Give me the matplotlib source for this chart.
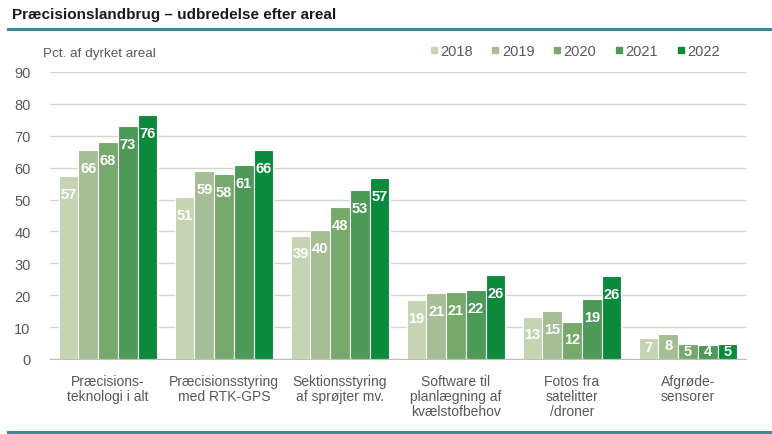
"""Præcisionslandbrug – udbredelse efter areal, grouped bar chart."""

import numpy as np
import matplotlib
matplotlib.use("Agg")
from matplotlib import pyplot as plt
from matplotlib.lines import Line2D

plt.rcParams["font.family"] = ["Liberation Sans", "DejaVu Sans"]

CATEGORIES = [
    "Præcisions-\nteknologi i alt",
    "Præcisionsstyring\nmed RTK-GPS",
    "Sektionsstyring\naf sprøjter mv.",
    "Software til\nplanlægning af\nkvælstofbehov",
    "Fotos fra\nsatelitter\n/droner",
    "Afgrøde-\nsensorer",
]
YEARS = ["2018", "2019", "2020", "2021", "2022"]
V2018 = [57.3, 50.9, 38.7, 18.6, 13.3, 6.6]
V2019 = [65.6, 59.0, 40.4, 20.8, 15.0, 7.8]
V2020 = [68.1, 57.9, 47.6, 20.9, 11.6, 4.6]
V2021 = [73.0, 60.8, 52.9, 21.6, 18.8, 4.4]
V2022 = [76.4, 65.6, 56.7, 26.4, 25.9, 4.6]
SERIES = [V2018, V2019, V2020, V2021, V2022]
COLORS = ["#c5d4b3", "#a5be95", "#78a96c", "#4d9a58", "#0b8a3c"]
TEAL = "#3a8a9a"
GRID = "#d6d6cc"
TEXT_GRAY = "#595959"

fig = plt.figure(figsize=(7.72, 4.35), dpi=100)
ax = fig.add_axes([50 / 772, 1 - 360 / 435, 696 / 772, 287 / 435])

x = np.arange(len(CATEGORIES))
width = 0.17
for i, (vals, color) in enumerate(zip(SERIES, COLORS)):
    pos = x + (i - 2) * width
    ax.bar(pos, vals, width=width, color=color, edgecolor="white", linewidth=0.8, zorder=3)
    for px, v in zip(pos, vals):
        ly = max(v - 5.6, v * 0.55)
        ax.text(px, ly, f"{v:.0f}", ha="center", va="center", color="white",
                fontsize=10.5, fontweight="bold", zorder=4)

ax.set_xlim(-0.5, len(CATEGORIES) - 0.5)
ax.set_ylim(0, 90)
ax.set_yticks(range(0, 91, 10))
ax.grid(True, axis="y", color=GRID, linewidth=1.0, zorder=0)
ax.set_axisbelow(True)
for side in ["top", "right", "left"]:
    ax.spines[side].set_visible(False)
ax.spines["bottom"].set_color("#bfbfb5")
ax.tick_params(axis="y", length=0, pad=14, labelsize=10.5, labelcolor=TEXT_GRAY)
ax.tick_params(axis="x", length=0, pad=11, labelsize=10, labelcolor=TEXT_GRAY)
ax.set_xticks(x)
ax.set_xticklabels(CATEGORIES, linespacing=1.1)

fig.text(43 / 772, 1 - 54 / 435, "Pct. af dyrket areal", fontsize=9.7,
         color=TEXT_GRAY, va="center", ha="left")

handles = [Line2D([], [], marker="s", linestyle="none", markersize=5,
                  markerfacecolor=c, markeredgecolor=c) for c in COLORS]
fig.legend(handles, YEARS, loc="center right", bbox_to_anchor=(720 / 772, 1 - 52 / 435),
           ncol=5, frameon=False, fontsize=10.5, labelcolor=TEXT_GRAY,
           handletextpad=0.05, columnspacing=1.15, handlelength=0.8,
           borderpad=0, borderaxespad=0)

fig.text(12 / 772, 1 - 15 / 435, "Præcisionslandbrug – udbredelse efter areal",
         fontsize=11, fontweight="bold", color="#1a1a1a", va="center", ha="left")
fig.add_artist(Line2D([8 / 772, 1], [1 - 30 / 435] * 2, color=TEAL, linewidth=2.2))
fig.add_artist(Line2D([8 / 772, 1], [1 - 433 / 435] * 2, color=TEAL, linewidth=2.2))

fig.savefig("out.png", dpi=100)
